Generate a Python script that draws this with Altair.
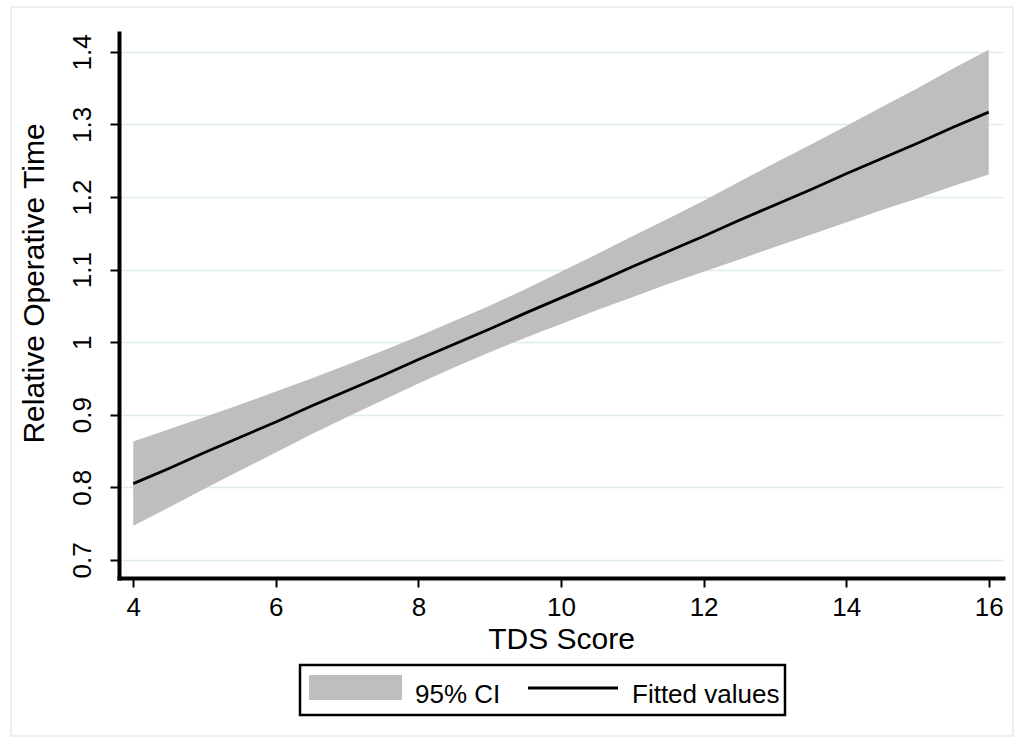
import altair as alt
import pandas as pd

# ---- data ----
tds_score = [4, 4.5, 5, 5.5, 6, 6.5, 7, 7.5, 8, 8.5, 9, 9.5, 10,
             10.5, 11, 11.5, 12, 12.5, 13, 13.5, 14, 14.5, 15, 15.5, 16]
fitted = [0.805, 0.826, 0.848, 0.869, 0.890, 0.912, 0.933, 0.954, 0.976,
          0.997, 1.018, 1.040, 1.061, 1.082, 1.104, 1.125, 1.146, 1.168,
          1.189, 1.210, 1.232, 1.253, 1.274, 1.296, 1.317]
ci_lower = [0.747, 0.772, 0.798, 0.823, 0.848, 0.873, 0.897, 0.920, 0.943,
            0.965, 0.986, 1.006, 1.025, 1.044, 1.062, 1.080, 1.097, 1.114,
            1.131, 1.148, 1.165, 1.182, 1.198, 1.215, 1.231]
ci_upper = [0.863, 0.880, 0.897, 0.914, 0.932, 0.950, 0.969, 0.988, 1.008,
            1.029, 1.050, 1.073, 1.097, 1.121, 1.146, 1.170, 1.195, 1.221,
            1.247, 1.272, 1.298, 1.324, 1.350, 1.377, 1.403]
x_ticks = [4, 6, 8, 10, 12, 14, 16]
y_ticks = [0.7, 0.8, 0.9, 1.0, 1.1, 1.2, 1.3, 1.4]
legend_labels = ["95% CI", "Fitted values"]

df = pd.DataFrame({"tds": tds_score, "fit": fitted, "lo": ci_lower, "hi": ci_upper})

FONT = "Liberation Sans"
BAND = "#bebebe"

x_scale = alt.Scale(domain=[3.8, 16.2], nice=False, zero=False)
y_scale = alt.Scale(domain=[0.675, 1.426], nice=False, zero=False)

x_axis = alt.Axis(
    values=x_ticks, title="TDS Score", format="~g",
    labelFontSize=26, labelPadding=7, labelColor="black", labelFont=FONT,
    tickSize=9, tickWidth=2, tickColor="black",
    domainColor="black", domainWidth=4, domainCap="square",
    grid=False, titleFontSize=30, titleFontWeight="normal", titleColor="black",
    titleFont=FONT, titlePadding=4,
)
y_axis = alt.Axis(
    values=y_ticks, title="Relative Operative Time", format="~g",
    labelAngle=270, labelAlign="center", labelBaseline="bottom",
    labelFontSize=26, labelPadding=15, labelColor="black", labelFont=FONT,
    tickSize=9, tickWidth=2, tickColor="black",
    domainColor="black", domainWidth=4, domainCap="square",
    grid=True, gridColor="#dfebee", gridWidth=1.5,
    titleFontSize=30, titleFontWeight="normal", titleColor="black", titleFont=FONT,
    titleAngle=270, titleBaseline="alphabetic", titleX=-76, titleY=250,
)

band = alt.Chart(df).mark_area(color=BAND, opacity=1).encode(
    x=alt.X("tds:Q", scale=x_scale, axis=x_axis),
    y=alt.Y("lo:Q", scale=y_scale, axis=y_axis),
    y2="hi:Q",
)
line = alt.Chart(df).mark_line(color="black", strokeWidth=2.8).encode(
    x=alt.X("tds:Q", scale=x_scale),
    y=alt.Y("fit:Q", scale=y_scale),
)

one = pd.DataFrame({"k": [0]})

# outer faint frame (graph region)
frame = alt.Chart(one).mark_rect(fillOpacity=0, stroke="#e3ecf0", strokeWidth=1.5).encode(
    x=alt.value(-108), x2=alt.value(894), y=alt.value(-26), y2=alt.value(703)
)

# legend
leg_box = alt.Chart(one).mark_rect(fill="white", stroke="black", strokeWidth=2.5).encode(
    x=alt.value(181), x2=alt.value(666), y=alt.value(632), y2=alt.value(682)
)
leg_swatch = alt.Chart(one).mark_rect(fill=BAND).encode(
    x=alt.value(190), x2=alt.value(283), y=alt.value(642), y2=alt.value(667)
)
leg_line = alt.Chart(one).mark_rule(color="black", strokeWidth=3).encode(
    x=alt.value(409), x2=alt.value(499), y=alt.value(655)
)
leg_text1 = alt.Chart(pd.DataFrame({"label": [legend_labels[0]]})).mark_text(
    align="left", baseline="alphabetic", fontSize=26, font=FONT, color="black"
).encode(text="label:N", x=alt.value(296), y=alt.value(670))
leg_text2 = alt.Chart(pd.DataFrame({"label": [legend_labels[1]]})).mark_text(
    align="left", baseline="alphabetic", fontSize=26, font=FONT, color="black"
).encode(text="label:N", x=alt.value(513), y=alt.value(670))

chart = alt.layer(
    frame, band, line, leg_box, leg_swatch, leg_line, leg_text1, leg_text2
).properties(
    width=884, height=545,
    padding={"left": 119, "top": 33, "right": 21, "bottom": 165},
    autosize=alt.AutoSizeParams(type="none"),
    background="white",
).configure_view(stroke=None)

chart.save("out.html", embed_options={"renderer": "svg", "actions": False})
